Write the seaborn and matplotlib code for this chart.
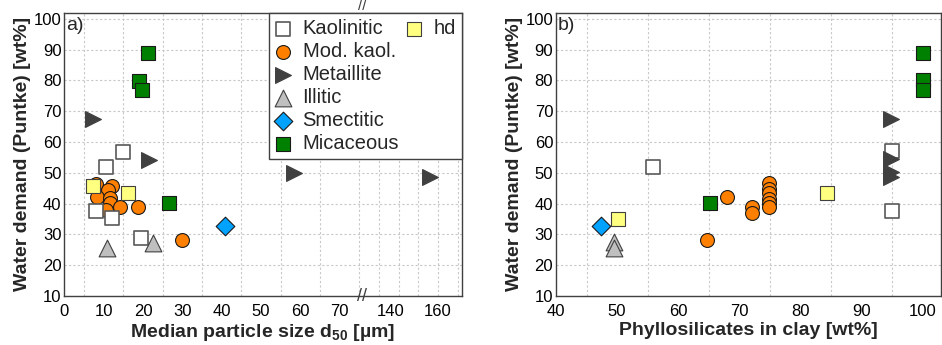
import numpy as np
import pandas as pd
import seaborn as sns
import matplotlib.pyplot as plt
from matplotlib.lines import Line2D

sns.set_style("white")
plt.rcParams["font.family"] = ["Liberation Sans", "DejaVu Sans"]
plt.rcParams["mathtext.fontset"] = "custom"
plt.rcParams["mathtext.rm"] = "Liberation Sans"
plt.rcParams["mathtext.bf"] = "Liberation Sans:bold"

# ---------------- data ----------------
# panel a: median particle size d50 [um] vs water demand [wt%]
kao_a_x = [14.8, 10.5, 8.0, 12.1, 19.5]
kao_a_y = [56.8, 51.9, 37.7, 35.2, 28.7]
mod_a_x = [8.1, 12.0, 11.1, 8.2, 11.6, 11.6, 10.7, 14.1, 18.8, 29.9]
mod_a_y = [46.5, 45.8, 44.4, 42.2, 41.7, 40.1, 37.9, 39.0, 39.0, 28.2]
met_a_x = [7.4, 21.5, 58.3, 156.8]
met_a_y = [67.6, 54.3, 49.8, 48.7]
ill_a_x = [10.9, 22.6]
ill_a_y = [25.5, 27.3]
sme_a_x = [40.9]
sme_a_y = [32.7]
mic_a_x = [21.4, 19.1, 19.7, 26.7]
mic_a_y = [89.0, 79.8, 77.0, 40.3]
hd_a_x = [7.4, 16.1]
hd_a_y = [45.7, 43.5]

# panel b: phyllosilicates in clay [wt%] vs water demand [wt%]
kao_b_x = [55.9, 94.9, 94.9]
kao_b_y = [51.9, 57.0, 37.7]
mod_b_x = [64.7, 67.9, 72.0, 72.0, 74.9, 74.9, 74.9, 74.9, 74.9, 74.9]
mod_b_y = [28.2, 42.0, 39.0, 36.8, 46.7, 44.9, 43.3, 41.4, 40.1, 39.0]
met_b_x = [94.8, 94.8, 94.8, 94.8]
met_b_y = [67.6, 54.6, 50.3, 48.7]
ill_b_x = [49.5, 49.5]
ill_b_y = [27.6, 25.5]
sme_b_x = [47.3]
sme_b_y = [32.7]
mic_b_x = [100.0, 100.0, 100.0, 65.2]
mic_b_y = [89.0, 80.0, 77.0, 40.3]
hd_b_x = [50.1, 84.4]
hd_b_y = [35.0, 43.5]

a_xticks = [0, 10, 20, 30, 40, 50, 60, 70, 140, 160]
b_xticks = [40, 50, 60, 70, 80, 90, 100]
yticks = [10, 20, 30, 40, 50, 60, 70, 80, 90, 100]

# ---------------- styles ----------------
styles = {
    "Mod. kaol.": dict(marker="o", color="#ff8000", edgecolor="#1a1a1a", s=100, linewidth=0.8),
    "Kaolinitic": dict(marker="s", color="white", edgecolor="#595959", s=95, linewidth=1.2),
    "Metaillite": dict(marker=">", color="#404040", edgecolor="#404040", s=130, linewidth=0.8),
    "Illitic": dict(marker="^", color="#bfbfbf", edgecolor="#404040", s=145, linewidth=0.8),
    "Smectitic": dict(marker="D", color="#00a2ff", edgecolor="#1a1a1a", s=90, linewidth=0.8),
    "Micaceous": dict(marker="s", color="#008000", edgecolor="#1a1a1a", s=95, linewidth=0.8),
    "hd": dict(marker="s", color="#ffff80", edgecolor="#404040", s=95, linewidth=0.8),
}
legend_order = ["Kaolinitic", "Mod. kaol.", "Metaillite", "Illitic", "Smectitic", "Micaceous", "hd"]

panel_a = {
    "Mod. kaol.": (mod_a_x, mod_a_y), "Kaolinitic": (kao_a_x, kao_a_y),
    "Metaillite": (met_a_x, met_a_y), "Illitic": (ill_a_x, ill_a_y),
    "Smectitic": (sme_a_x, sme_a_y), "Micaceous": (mic_a_x, mic_a_y),
    "hd": (hd_a_x, hd_a_y),
}
panel_b = {
    "Mod. kaol.": (mod_b_x, mod_b_y), "Kaolinitic": (kao_b_x, kao_b_y),
    "Metaillite": (met_b_x, met_b_y), "Illitic": (ill_b_x, ill_b_y),
    "Smectitic": (sme_b_x, sme_b_y), "Micaceous": (mic_b_x, mic_b_y),
    "hd": (hd_b_x, hd_b_y),
}

# broken x axis for panel a (70 ... 140)
brk_x = [-1000.0, 75.7, 128.1, 1000.0]
brk_d = [-1000.0, 75.70, 75.72, 75.72 + (1000.0 - 128.1) * 0.605]


def fwd(x):
    return np.interp(x, brk_x, brk_d)


def inv(d):
    return np.interp(d, brk_d, brk_x)


fig = plt.figure(figsize=(9.42, 3.45), dpi=100)
ax_a = fig.add_axes([0.0683, 0.142, 0.4219, 0.821])
ax_b = fig.add_axes([0.5902, 0.142, 0.4088, 0.821])

for ax, data in [(ax_a, panel_a), (ax_b, panel_b)]:
    for name, (xs, ys) in data.items():
        st = styles[name]
        df = pd.DataFrame({"x": xs, "y": ys})
        sns.scatterplot(data=df, x="x", y="y", marker=st["marker"], color=st["color"],
                        edgecolor=st["edgecolor"], s=st["s"], linewidth=st["linewidth"],
                        label=name, ax=ax, zorder=3, legend=False)

# axes a
ax_a.set_xscale("function", functions=(fwd, inv))
ax_a.set_xlim(0, 170)
ax_a.set_xticks(a_xticks)
ax_a.set_xticks(inv(np.arange(5, 101, 5)), minor=True)
# axes b
ax_b.set_xlim(40, 103)
ax_b.set_xticks(b_xticks)
ax_b.set_xticks(np.arange(45, 103, 5), minor=True)

for ax in (ax_a, ax_b):
    ax.set_ylim(10, 102)
    ax.set_yticks(yticks)
    ax.grid(False)
    ax.grid(True, which="minor", axis="x", color="#c8c8c8", linestyle=(0, (2, 2)), linewidth=0.8)
    ax.grid(True, which="major", axis="y", color="#c8c8c8", linestyle=(0, (2, 2)), linewidth=0.8)
    ax.set_axisbelow(True)
    ax.tick_params(which="both", length=0, labelsize=12, colors="black")
    ax.tick_params(axis="x", pad=6)
    ax.tick_params(axis="y", pad=2)
    for sp in ax.spines.values():
        sp.set_color("#404040")
        sp.set_linewidth(1.0)
    ax.set_ylabel("Water demand (Puntke) [wt%]", fontsize=14, fontweight="bold", labelpad=2)

ax_a.set_xlabel(r"Median particle size d$_{\mathbf{50}}$ [µm]", fontsize=14,
                fontweight="bold", labelpad=2)
ax_b.set_xlabel("Phyllosilicates in clay [wt%]", fontsize=14, fontweight="bold", labelpad=2)

ax_a.text(0.005, 0.985, "a)", transform=ax_a.transAxes, fontsize=14, ha="left", va="top")
ax_b.text(0.005, 0.985, "b)", transform=ax_b.transAxes, fontsize=14, ha="left", va="top")

# break marks (bottom on the spine, top just above the frame)
bpos = (fwd(102.0) - 0) / (fwd(170.0) - 0)
ax_a.text(bpos, 0.0, "//", transform=ax_a.transAxes, fontsize=13, ha="center",
          va="center", color="#404040", clip_on=False)
ax_a.text(bpos, 1.0, "//", transform=ax_a.transAxes, fontsize=11, ha="center",
          va="bottom", color="#404040", clip_on=False)

# legend: 6 entries in first column, "hd" in the second
hmap = {}
for h, l in zip(*ax_a.get_legend_handles_labels()):
    hmap[l] = h
blank = Line2D([], [], linestyle="none", alpha=0)
handles = [hmap[n] for n in legend_order] + [blank] * 5
labels = legend_order + [""] * 5
leg = ax_a.legend(handles, labels, ncol=2, loc="upper right", bbox_to_anchor=(1.0, 1.0),
                  borderaxespad=0, fontsize=14.5, frameon=True, fancybox=False,
                  labelspacing=0.2, handletextpad=0.55, columnspacing=0.35,
                  handlelength=0.8, borderpad=0.3, framealpha=1)
leg.get_frame().set_edgecolor("#404040")
leg.get_frame().set_linewidth(1.0)

fig.savefig("out.png", dpi=100)
